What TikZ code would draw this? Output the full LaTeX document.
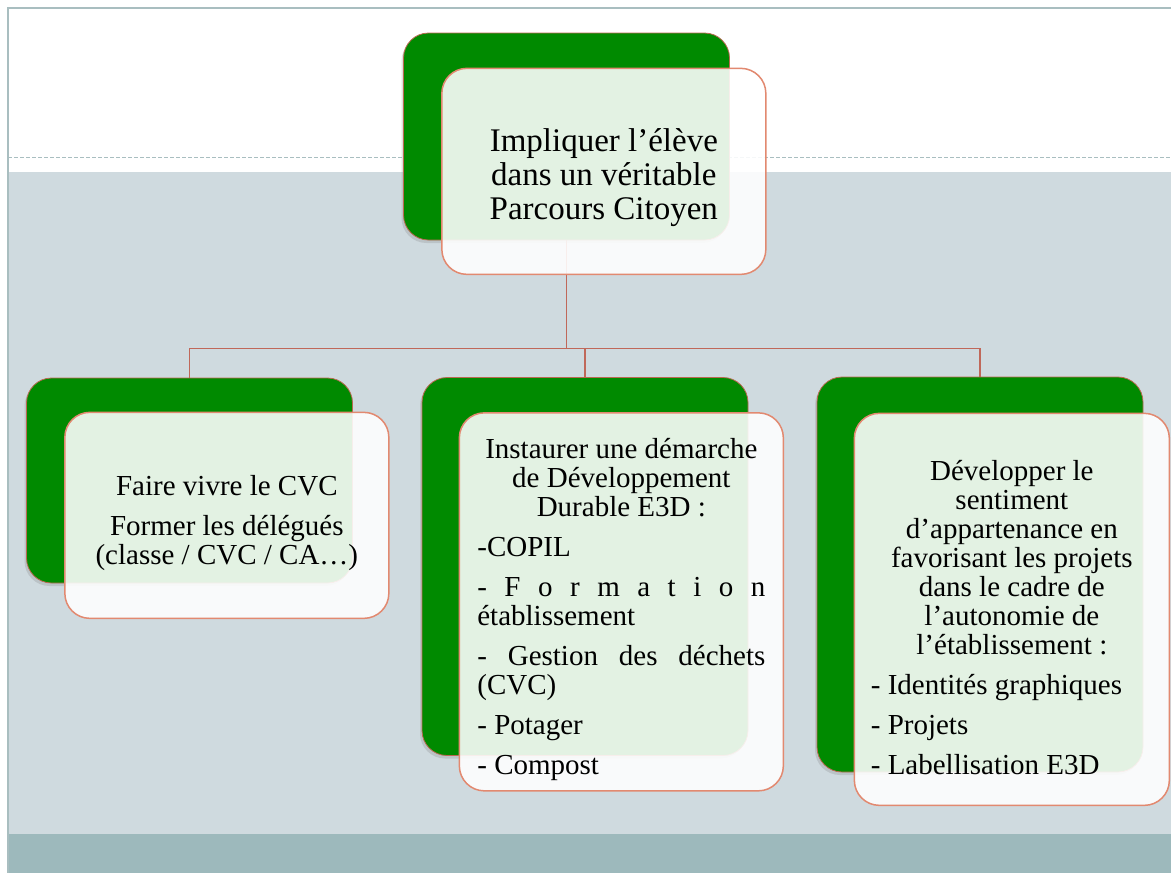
\documentclass[tikz,border=0pt]{standalone}
\usepackage{fontspec}
\setmainfont{Liberation Serif}
\usepackage{tikz}
\usetikzlibrary{positioning,shadows}
\pgfdeclarelayer{background}
\pgfsetlayers{background,main}
\definecolor{vert}{RGB}{0,138,0}
\definecolor{brique}{RGB}{185,105,80}
\definecolor{saumon}{RGB}{226,137,112}
\definecolor{lien}{RGB}{192,104,90}
\definecolor{ardoise}{RGB}{207,218,223}
\definecolor{bande}{RGB}{157,185,188}
\definecolor{cadre}{RGB}{169,190,192}
\newcommand{\haut}{\rule{0pt}{36pt}}
\newcommand{\saut}{\par\vspace{11pt}}

\begin{document}
\begin{tikzpicture}[x=1pt,y=-1pt,
    back/.style={rectangle,rounded corners=25pt,fill=vert,draw=brique,line width=0.8pt,
      minimum width=326pt,drop shadow={opacity=0.25,shadow xshift=-2pt,shadow yshift=-3pt}},
    front/.style={rectangle,rounded corners=25pt,fill=white,fill opacity=0.89,text opacity=1,
      draw=saumon,line width=1.5pt,minimum width=324pt,text width=288pt,align=justify,
      font=\fontsize{29}{29}\selectfont},
    link/.style={draw=lien,line width=1.5pt}]
    \useasboundingbox (0,0) rectangle (1171,873);
    \node[back,minimum height=207pt] (parcours) at (566.5,136.5) {};
    \node[back,minimum height=205pt] (cvc) at (189.5,480.5) {};
    \node[back,minimum height=378pt] (e3d) at (585,566.5) {};
    \node[back,minimum height=395pt] (autonomie) at (980,574.5) {};
    \node[front,minimum height=206pt,font=\fontsize{33}{34}\selectfont] (parcoursT)
      [below right = 35pt and 38pt of parcours.north west]
      {{\centering\haut Impliquer l’élève\\ dans un véritable\\ Parcours Citoyen\par}};
    \node[front,minimum height=206pt] (cvcT) [below right = 34pt and 38pt of cvc.north west]
      {{\centering\haut Faire vivre le CVC\saut Former les délégués\\ (classe / CVC / CA…)\par}};
    \node[front,minimum height=378pt] (e3dT) [below right = 35pt and 37pt of e3d.north west]
      {{\centering\haut Instaurer une démarche\\ de Développement\\ Durable E3D :\par}
      \saut -COPIL
      \saut -\hfill F\hfill o\hfill r\hfill m\hfill a\hfill t\hfill i\hfill o\hfill n\newline établissement
      \saut -\hfill Gestion\hfill des\hfill déchets\newline (CVC)
      \saut - Potager
      \saut - Compost};
    \node[front,minimum height=392pt,minimum width=315pt,text width=282pt] (autonomieT)
      [below right = 36pt and 37pt of autonomie.north west]
      {{\centering\haut Développer le\\ sentiment\\ d’appartenance en\\ favorisant les projets\\
      dans le cadre de\\ l’autonomie de\\ l’établissement :\par}
      \saut - Identités graphiques
      \saut - Projets
      \saut - Labellisation E3D};
    \begin{pgfonlayer}{background}
      % slide background
      \fill[white] (0,0) rectangle (1171,873);
      \fill[ardoise] (8,172) rectangle (1171,834);
      \fill[bande] (8,834) rectangle (1171,873);
      \draw[cadre,line width=2pt] (8,873) -- (8,8) -- (1171,8);
      \draw[cadre,line width=1pt,dash pattern=on 4pt off 2pt] (8,157) -- (1171,157);
      % tree
      \path (parcours.south) ++(0,108) coordinate (hub);
      \draw[link] (parcours.south) -- (hub);
      \draw[link] (hub) -| (cvc.north);
      \draw[link] (hub) -| (e3d.north);
      \draw[link] (hub) -| (autonomie.north);
    \end{pgfonlayer}
  \end{tikzpicture}
\end{document}
